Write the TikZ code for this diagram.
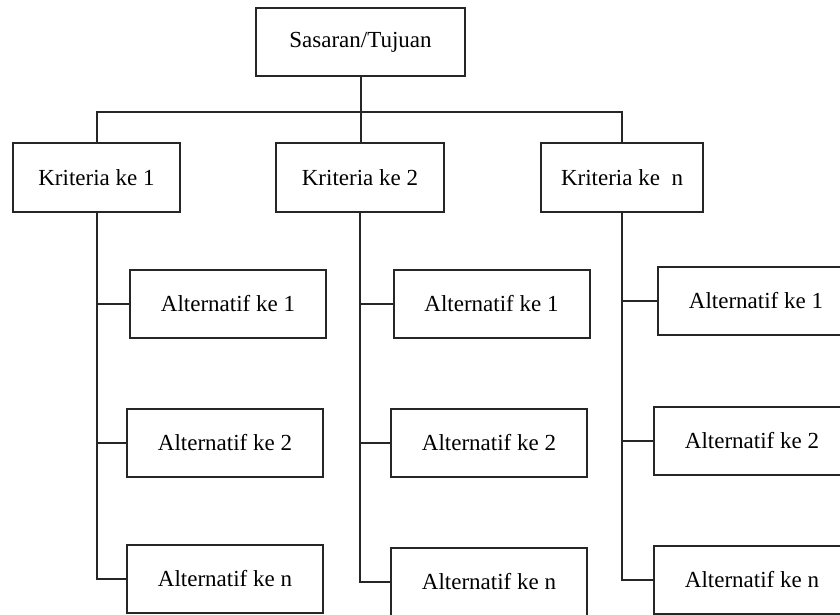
\documentclass[tikz,border=0pt]{standalone}
\usepackage{fontspec}
\setmainfont{Liberation Serif}
\begin{document}
\begin{tikzpicture}[x=1pt,y=-1pt,
  box/.style={draw=black!85,line width=2pt,fill=white,inner sep=0pt,
    minimum height=68pt,font=\fontsize{23}{27}\selectfont},
  alt/.style={box,minimum width=196pt},
  link/.style={draw=black!85,line width=2pt}]
\useasboundingbox (0,0) rectangle (840,614);
\clip (0,0) rectangle (840,614);
\node[box,minimum width=209pt] (top) at (360.5,42) {Sasaran/Tujuan};
\node[box,minimum width=167pt,minimum height=69pt] (K1) at (96.5,177.5) {Kriteria ke 1};
\node[box,minimum width=168pt,minimum height=69pt] (K2) at (360,177.5) {Kriteria ke 2};
\node[box,minimum width=162pt,minimum height=69pt] (Kn) at (622,177.5) {Kriteria ke\ \ n};
\node[alt] (c1a1) at (228,304) {Alternatif ke 1};
\node[alt] (c1a2) at (225,443) {Alternatif ke 2};
\node[alt] (c1an) at (225,579) {Alternatif ke n};
\node[alt] (c2a1) at (491.5,304) {Alternatif ke 1};
\node[alt] (c2a2) at (489,443) {Alternatif ke 2};
\node[alt] (c2an) at (489,582) {Alternatif ke n};
\node[alt] (c3a1) at (756,301) {Alternatif ke 1};
\node[alt] (c3a2) at (752,441) {Alternatif ke 2};
\node[alt] (c3an) at (752,580) {Alternatif ke n};
% top level
\draw[link] (top.south) -- (top.south |- K2.north);
\draw[link] (K1.north) -- ++(0,-30) -| (Kn.north);
% column 1
\draw[link] (K1.south) |- (c1an.west);
\draw[link] (K1.south |- c1a1.west) -- (c1a1.west);
\draw[link] (K1.south |- c1a2.west) -- (c1a2.west);
% column 2
\draw[link] (K2.south) |- (c2an.west);
\draw[link] (K2.south |- c2a1.west) -- (c2a1.west);
\draw[link] (K2.south |- c2a2.west) -- (c2a2.west);
% column 3
\draw[link] (Kn.south) |- (c3an.west);
\draw[link] (Kn.south |- c3a1.west) -- (c3a1.west);
\draw[link] (Kn.south |- c3a2.west) -- (c3a2.west);
\end{tikzpicture}
\end{document}
